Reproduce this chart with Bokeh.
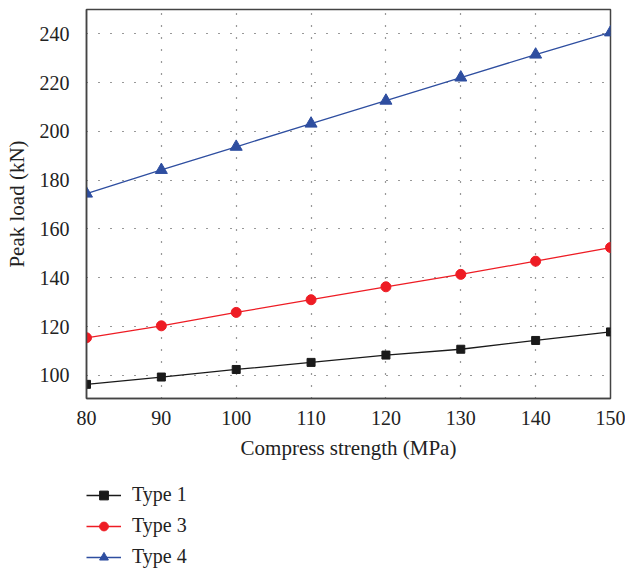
from bokeh.plotting import figure
from bokeh.models import Legend, LegendItem, Range1d, FixedTicker
from bokeh.layouts import column
from bokeh.embed import file_html
from bokeh.resources import INLINE

strength = [80, 90, 100, 110, 120, 130, 140, 150]
type1 = [96.3, 99.3, 102.4, 105.3, 108.3, 110.7, 114.3, 117.8]
type3 = [115.4, 120.3, 125.8, 131.0, 136.3, 141.4, 146.8, 152.4]
type4 = [174.5, 184.2, 193.7, 203.2, 212.6, 222.1, 231.5, 240.6]
x_ticks = [80, 90, 100, 110, 120, 130, 140, 150]
y_ticks = [100, 120, 140, 160, 180, 200, 220, 240]
series_names = ["Type 1", "Type 3", "Type 4"]

FONT = "Liberation Serif"
TXT = "#222222"
styles = [
    dict(color="#1a1a1a", marker="square", size=8),
    dict(color="#ee1c24", marker="circle", size=10),
    dict(color="#2e4ea0", marker="triangle", size=12),
]

p = figure(width=625, height=464, output_backend="svg", toolbar_location=None,
           x_range=Range1d(80, 150), y_range=Range1d(90.5, 250),
           min_border_left=86, min_border_right=15, min_border_top=9, min_border_bottom=66)
p.background_fill_color = "white"
p.border_fill_color = "white"
p.outline_line_color = "#444444"
p.outline_line_width = 1.5

for ax in (p.xaxis, p.yaxis):
    ax.major_tick_line_color = None
    ax.minor_tick_line_color = None
    ax.axis_line_color = "#444444"
    ax.axis_line_width = 1.5
    ax.major_label_text_font = FONT
    ax.major_label_text_font_size = "20px"
    ax.major_label_text_color = TXT
    ax.axis_label_text_font = FONT
    ax.axis_label_text_font_size = "21px"
    ax.axis_label_text_font_style = "normal"
    ax.axis_label_text_color = TXT

p.xaxis.ticker = FixedTicker(ticks=x_ticks)
p.yaxis.ticker = FixedTicker(ticks=y_ticks)
p.xaxis.axis_label = "Compress strength (MPa)"
p.yaxis.axis_label = "Peak load (kN)"
p.xaxis.major_label_standoff = 6
p.yaxis.major_label_standoff = 11
p.xaxis.axis_label_standoff = 8
p.yaxis.axis_label_standoff = 8

for g in (p.xgrid, p.ygrid):
    g.grid_line_color = "#333333"
    g.grid_line_dash = "1 11"
    g.grid_line_width = 1.2
p.xgrid.ticker = FixedTicker(ticks=x_ticks)
p.ygrid.ticker = FixedTicker(ticks=y_ticks)

for ys, st in zip([type1, type3, type4], styles):
    p.line(strength, ys, line_color=st["color"], line_width=1.3)
    p.scatter(strength, ys, marker=st["marker"], size=st["size"],
              fill_color=st["color"], line_color=st["color"])

# Legend strip below the chart (its renderers are hidden; only the legend swatches show)
lf = figure(width=625, height=105, output_backend="svg", toolbar_location=None,
            x_range=Range1d(0, 1), y_range=Range1d(0, 1),
            min_border_left=86, min_border_right=15, min_border_top=0, min_border_bottom=0)
lf.axis.visible = False
lf.grid.visible = False
lf.outline_line_color = None
lf.background_fill_color = "white"
lf.border_fill_color = "white"

items = []
for name, ys, st in zip(series_names, [type1, type3, type4], styles):
    lr = lf.line(strength, ys, line_color=st["color"], line_width=1.3, visible=False)
    mr = lf.scatter(strength, ys, marker=st["marker"], size=st["size"],
                    fill_color=st["color"], line_color=st["color"], visible=False)
    items.append(LegendItem(label=name, renderers=[lr, mr]))

legend = Legend(items=items, location=(0, 1), orientation="vertical")
legend.border_line_color = None
legend.background_fill_alpha = 0
legend.inactive_fill_alpha = 0
legend.label_text_font = FONT
legend.label_text_font_size = "20px"
legend.label_text_color = TXT
legend.glyph_width = 35
legend.spacing = 8
legend.margin = 0
legend.padding = 0
legend.label_standoff = 11
legend.label_height = 22
legend.glyph_height = 22
legend.click_policy = "none"
lf.add_layout(legend, "center")

layout = column(p, lf, spacing=0)
open("out.html", "w").write(file_html(layout, INLINE))
